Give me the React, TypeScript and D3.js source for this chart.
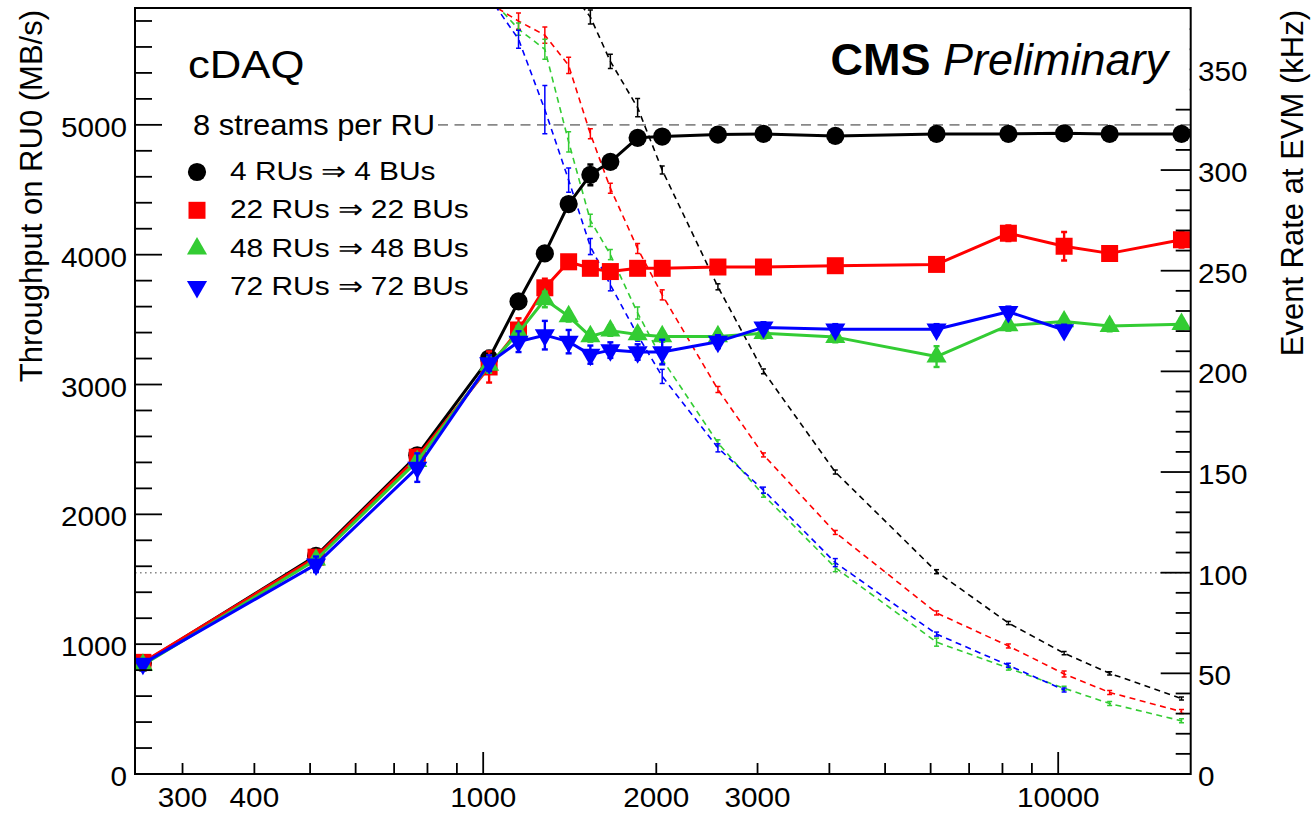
import React from 'react';
import * as d3 from 'd3';

// fragment size (bytes) on the x axis
const sizes = [256, 512, 768, 1024, 1152, 1280, 1408, 1536, 1664, 1856, 2048, 2560, 3072, 4096, 6144, 8192, 10240, 12288, 16384];

// throughput on RU0 (MB/s), solid lines
const tput4 = [855, 1680, 2455, 3200, 3640, 4010, 4390, 4615, 4715, 4900, 4910, 4925, 4930, 4915, 4930, 4930, 4935, 4930, 4930];
const tput22 = [860, 1670, 2440, 3135, 3420, 3745, 3945, 3895, 3870, 3895, 3895, 3905, 3905, 3915, 3925, 4165, 4065, 4010, 4115];
const tput48 = [840, 1650, 2410, 3150, 3400, 3655, 3525, 3370, 3415, 3385, 3370, 3370, 3395, 3365, 3215, 3455, 3485, 3450, 3465];
const tput72 = [850, 1615, 2360, 3165, 3330, 3380, 3330, 3230, 3265, 3250, 3250, 3330, 3440, 3425, 3425, 3560, 3420, null, null];

const tput4Err = [10, 20, 30, 60, 40, 40, 40, 80, 40, 40, 30, 20, 20, 20, 20, 20, 20, 20, 20];
const tput22Err = [30, 40, 60, 120, 90, 70, 30, 30, 30, 30, 30, 30, 30, 30, 30, 60, 110, 30, 60];
const tput48Err = [30, 40, 60, 60, 50, 60, 40, 40, 40, 40, 40, 40, 40, 40, 80, 40, 40, 40, 40];
const tput72Err = [30, 60, 110, 60, 80, 110, 90, 70, 60, 60, 95, 50, 40, 40, 40, 40, 40, null, null];

// event rate at EVM (kHz), dashed lines
const rate4 = [null, null, null, null, null, null, 390, 376, 354, 331, 300, 242, 200, 150, 100.5, 75, 60, 50, 37.5];
const rate22 = [null, null, null, 383, 374, 367, 352, 318, 291, 261, 238, 191, 158.5, 120, 80, 63.6, 49.7, 40.5, 31];
const rate48 = [null, null, null, 386, 370, 360, 314, 275, 258, 229, 206, 164.5, 138.5, 102.5, 65.5, 52.6, 42.6, 35, 26.4];
const rate72 = [null, null, null, 386, 365, 330, 295, 262, 243, 218, 197.5, 162, 141, 105, 69.5, 54, 41.7, null, null];

const rate4Err = [0, 0, 0, 0, 0, 0, 0, 3.5, 3.5, 4.5, 2, 1.5, 1.2, 1, 1, 0.8, 0.8, 0.8, 0.8];
const rate22Err = [0, 0, 0, 0, 4, 4, 4, 2.5, 2.5, 2.5, 2.5, 1.5, 1, 1, 1, 1, 1.5, 1, 1];
const rate48Err = [0, 0, 0, 0, 3, 5, 5, 3, 2.5, 3, 2, 1.5, 1, 2, 2, 1, 1, 1, 1];
const rate72Err = [0, 0, 0, 0, 4.5, 12, 6, 4, 3, 3, 3.5, 2, 1.5, 2, 1, 1, 1, 0, 0];

const labels = ['4 RUs \u21D2 4 BUs', '22 RUs \u21D2 22 BUs', '48 RUs \u21D2 48 BUs', '72 RUs \u21D2 72 BUs'];
const colors = ['#000000', '#ff0000', '#33cc33', '#0000ff'];

const xLabelTicks = [300, 400, 1000, 2000, 3000, 10000];
const xMajorTicks = [1000, 10000];
const xMinorTicks = [300, 400, 500, 600, 700, 800, 900, 2000, 3000, 4000, 5000, 6000, 7000, 8000, 9000];
const leftLabels = [0, 1000, 2000, 3000, 4000, 5000];
const rightLabels = [0, 50, 100, 150, 200, 250, 300, 350];

const series = [
  { label: labels[0], color: colors[0], sym: 'circle', tput: tput4, tErr: tput4Err, rate: rate4, rErr: rate4Err },
  { label: labels[1], color: colors[1], sym: 'square', tput: tput22, tErr: tput22Err, rate: rate22, rErr: rate22Err },
  { label: labels[2], color: colors[2], sym: 'tri', tput: tput48, tErr: tput48Err, rate: rate48, rErr: rate48Err },
  { label: labels[3], color: colors[3], sym: 'itri', tput: tput72, tErr: tput72Err, rate: rate72, rErr: rate72Err },
];

const W = 1311, H = 813;
const X0 = 135, X1 = 1190.7, YT = 8, YB = 774;
const FONT = '"Liberation Sans", Arial, Helvetica, sans-serif';

const x = d3.scaleLog().domain([248, 17000]).range([X0, X1]);
const yL = d3.scaleLinear().domain([0, 5900]).range([YB, YT]);
const yR = d3.scaleLinear().domain([0, 380.5]).range([YB, YT]);

const symPath = {
  circle: d3.symbol().type(d3.symbolCircle).size(260)(),
  square: d3.symbol().type(d3.symbolSquare).size(289)(),
  tri: d3.symbol().type(d3.symbolTriangle).size(175)(),
};

const Marker = ({ sym, cx, cy, color }) => {
  if (sym === 'itri') {
    return <path d={symPath.tri} transform={`translate(${cx},${cy}) rotate(180)`} fill={color} />;
  }
  return <path d={symPath[sym]} transform={`translate(${cx},${cy})`} fill={color} />;
};

const Txt = ({ x, y, size, sx = 1, anchor = 'start', weight = 'normal', children }) => (
  <text transform={`translate(${x},${y}) scale(${sx},1)`} fontSize={size} textAnchor={anchor}
    fontWeight={weight} fontFamily={FONT} fill="#000">{children}</text>
);

function pts(vals, errs) {
  return sizes.map((s, i) => ({ s, v: vals[i], e: errs[i] })).filter(d => d.v != null);
}

export default function App() {
  const tLine = d3.line().x(d => x(d.s)).y(d => yL(d.v));
  const rLine = d3.line().x(d => x(d.s)).y(d => yR(d.v));

  return (
    <svg width={W} height={H} style={{ position: 'absolute', left: 0, top: 0, background: '#fff' }}>
      <defs>
        <clipPath id="plot">
          <rect x={X0} y={YT} width={X1 - X0} height={YB - YT} />
        </clipPath>
      </defs>
      <rect x={0} y={0} width={W} height={H} fill="#fff" />

      {/* reference lines */}
      <line x1={X0} x2={X1} y1={yR(100)} y2={yR(100)} stroke="#888" strokeWidth={1.6} strokeDasharray="1.6 3.4" />
      <line x1={438} x2={X1} y1={yL(5000)} y2={yL(5000)} stroke="#888" strokeWidth={1.6} strokeDasharray="10 6.5" />

      <g clipPath="url(#plot)">
        {/* event rate graphs */}
        {series.map((sr, k) => {
          const p = pts(sr.rate, sr.rErr);
          return (
            <g key={'r' + k}>
              <path d={rLine(p)} fill="none" stroke={sr.color} strokeWidth={1.6} strokeDasharray="6 4.5" />
              {p.filter(d => d.e > 0).map((d, i) => (
                <g key={i} stroke={sr.color} strokeWidth={1.5}>
                  <line x1={x(d.s)} x2={x(d.s)} y1={yR(d.v - d.e)} y2={yR(d.v + d.e)} />
                  <line x1={x(d.s) - 2.5} x2={x(d.s) + 2.5} y1={yR(d.v - d.e)} y2={yR(d.v - d.e)} />
                  <line x1={x(d.s) - 2.5} x2={x(d.s) + 2.5} y1={yR(d.v + d.e)} y2={yR(d.v + d.e)} />
                </g>
              ))}
            </g>
          );
        })}

        {/* throughput graphs */}
        {series.map((sr, k) => {
          const p = pts(sr.tput, sr.tErr);
          return (
            <g key={'t' + k}>
              <path d={tLine(p)} fill="none" stroke={sr.color} strokeWidth={3} strokeLinejoin="round" />
              {p.map((d, i) => (
                <g key={i} stroke={sr.color} strokeWidth={2.4}>
                  <line x1={x(d.s)} x2={x(d.s)} y1={yL(d.v - d.e)} y2={yL(d.v + d.e)} />
                  <line x1={x(d.s) - 3} x2={x(d.s) + 3} y1={yL(d.v - d.e)} y2={yL(d.v - d.e)} />
                  <line x1={x(d.s) - 3} x2={x(d.s) + 3} y1={yL(d.v + d.e)} y2={yL(d.v + d.e)} />
                </g>
              ))}
              {p.map((d, i) => (
                <Marker key={'m' + i} sym={sr.sym} cx={x(d.s)} cy={yL(d.v)} color={sr.color} />
              ))}
            </g>
          );
        })}
      </g>

      {/* ticks */}
      <g stroke="#000" strokeWidth={1.8}>
        {d3.range(0, 5900, 200).map(v => (
          <line key={'lt' + v} x1={X0} x2={X0 + (v % 1000 === 0 ? 27 : 17)} y1={yL(v)} y2={yL(v)} />
        ))}
        {d3.range(0, 381, 10).map(v => (
          <line key={'rt' + v} x1={X1} x2={X1 - (v % 50 === 0 ? 30 : 15)} y1={yR(v)} y2={yR(v)} />
        ))}
        {xMinorTicks.map(v => (
          <line key={'bt' + v} x1={x(v)} x2={x(v)} y1={YB} y2={YB - 11} />
        ))}
        {xMajorTicks.map(v => (
          <line key={'bM' + v} x1={x(v)} x2={x(v)} y1={YB} y2={YB - 22} />
        ))}
      </g>

      {/* box behind the CMS label hides the top right ticks */}
      <rect x={820} y={YT + 1} width={X1 - 821} height={92} fill="#fff" />

      {/* frame */}
      <rect x={X0} y={YT} width={X1 - X0} height={YB - YT} fill="none" stroke="#000" strokeWidth={2} />

      {/* tick labels */}
      {leftLabels.map(v => (
        <Txt key={'ll' + v} x={127} y={yL(v) + 12} size={27} sx={1.1} anchor="end">{v}</Txt>
      ))}
      {rightLabels.map(v => (
        <Txt key={'rl' + v} x={1198} y={yR(v) + 12} size={27} sx={1.1}>{v}</Txt>
      ))}
      {xLabelTicks.map(v => (
        <Txt key={'bl' + v} x={x(v)} y={807} size={27} sx={1.1} anchor="middle">{v}</Txt>
      ))}

      {/* axis titles */}
      <text transform="translate(42,10) rotate(-90)" fontSize={31} textAnchor="end" fontFamily={FONT}>Throughput on RU0 (MB/s)</text>
      <text transform="translate(1303,10) rotate(-90)" fontSize={31} textAnchor="end" fontFamily={FONT}>Event Rate at EVM (kHz)</text>

      {/* labels */}
      <Txt x={188} y={78} size={39} sx={1.12}>cDAQ</Txt>
      <text x={1168} y={75} fontSize={45} textAnchor="end" fontFamily={FONT}>
        <tspan fontWeight="bold">CMS</tspan>
        <tspan fontStyle="italic"> Preliminary</tspan>
      </text>

      {/* legend */}
      <Txt x={193} y={135} size={30} sx={1.03}>8 streams per RU</Txt>
      {series.map((sr, k) => {
        const by = 180 + 38.3 * k;
        return (
          <g key={'lg' + k}>
            <Marker sym={sr.sym} cx={197} cy={by - 8} color={sr.color} />
            <Txt x={230} y={by} size={26} sx={1.15}>{sr.label}</Txt>
          </g>
        );
      })}
    </svg>
  );
}
